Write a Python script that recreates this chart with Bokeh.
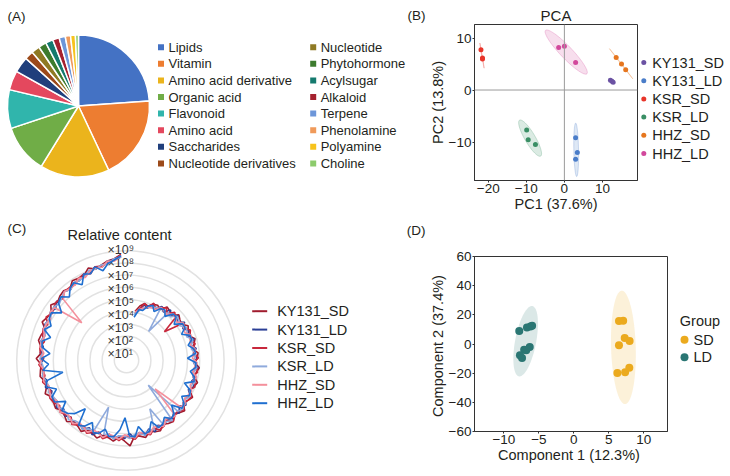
import numpy as np
from bokeh.plotting import figure
from bokeh.models import Range1d, Span, FixedTicker, ColumnDataSource, CustomJSTickFormatter
from bokeh.layouts import row, column
from bokeh.embed import file_html
from bokeh.resources import INLINE
from bokeh.core.properties import value

FONT = "Liberation Sans"
INK = "#231f20"

# ---------------- (A) metabolite classes ----------------
pie_classes = ["Lipids", "Vitamin", "Amino acid derivative", "Organic acid", "Flavonoid",
               "Amino acid", "Saccharides", "Nucleotide derivatives", "Nucleotide",
               "Phytohormone", "Acylsugar", "Alkaloid", "Terpene", "Phenolamine",
               "Polyamine", "Choline"]
pie_counts = [239, 191, 158, 111, 88, 44, 36, 20, 19, 18, 17, 15, 14, 12, 11, 7]
pie_colors = ["#4472C4", "#ED7D31", "#EBB41C", "#70AD47", "#30B5AC", "#E4485E",
              "#203F7C", "#9C4A1A", "#8F7A24", "#3D7B2E", "#157A6E", "#A5212F",
              "#6D96D9", "#F09A5A", "#F7C31C", "#8CCB6C"]

# ---------------- (B) PCA ----------------
pca_groups = ["KY131_SD", "KY131_LD", "KSR_SD", "KSR_LD", "HHZ_SD", "HHZ_LD"]
pca_colors = ["#6B52A3", "#4A7DC9", "#E8352A", "#3A8F65", "#E6761E", "#D2489C"]
pca_sample_group = (["KY131_SD"] * 3 + ["KY131_LD"] * 3 + ["KSR_SD"] * 3 +
                    ["KSR_LD"] * 3 + ["HHZ_SD"] * 3 + ["HHZ_LD"] * 3)
pca_pc1 = [12.1, 12.5, 12.8, 2.95, 3.4, 2.95, -21.9, -21.5, -21.5,
           -9.9, -9.5, -7.6, 13.6, 15.0, 16.1, -1.5, 0.0, 2.95]
pca_pc2 = [1.9, 1.7, 1.5, -9.2, -12.0, -13.3, 7.75, 6.15, 5.95,
           -7.7, -9.56, -10.5, 6.27, 5.0, 3.9, 8.2, 8.4, 5.3]
pca_xticks = [-20, -10, 0, 10]
pca_yticks = [-10, 0, 10]

# ---------------- (C) relative content (log10), sorted metabolites ----------------
rc_series = ["KY131_SD", "KY131_LD", "KSR_SD", "KSR_LD", "HHZ_SD", "HHZ_LD"]
rc_colors = ["#A01C2E", "#2B3F96", "#C8283C", "#8FAADC", "#F4909C", "#1F6FD0"]
rc_ky131_sd = [8.7, 8.4, 8.3, 8.1, 7.9, 8.2, 7.8, 7.8, 7.9, 7.5,
               7.7, 7.6, 7.4, 7.7, 7.3, 7.4, 7.6, 7.1, 7.3, 7.4,
               7.1, 7.0, 7.4, 7.0, 7.1, 7.2, 6.9, 6.9, 7.2, 6.8,
               6.9, 7.0, 6.7, 6.8, 7.0, 6.6, 6.7, 6.9, 6.5, 6.6,
               6.8, 6.4, 6.5, 6.7, 6.3, 6.6, 7.0, 6.2, 6.3, 6.5,
               6.1, 6.3, 6.4, 6.0, 6.2, 6.3, 5.9, 6.1, 6.3, 5.8,
               6.0, 6.2, 5.7, 5.9, 6.1, 5.7, 5.8, 6.0, 5.6, 5.8,
               5.9, 5.5, 5.7, 5.9, 5.5, 5.6, 5.8, 5.4, 5.5, 5.7,
               5.2, 5.4, 5.5, 5.0, 5.2, 5.1, 4.8, 4.9, 4.6, 4.1]
rc_ky131_ld = [8.5, 8.3, 8.3, 7.9, 8.1, 7.8, 7.9, 7.6, 7.7, 7.4,
               7.6, 7.3, 7.5, 7.2, 7.4, 7.1, 7.3, 7.3, 7.0, 7.2,
               6.9, 7.1, 6.8, 7.1, 6.8, 7.0, 6.7, 7.0, 6.6, 6.9,
               6.6, 6.9, 6.5, 6.8, 6.5, 6.8, 6.4, 6.7, 6.3, 6.7,
               6.3, 6.6, 6.2, 6.5, 6.2, 6.4, 6.0, 6.4, 6.0, 6.3,
               5.9, 6.3, 5.9, 6.2, 5.8, 6.2, 5.8, 6.1, 5.7, 6.1,
               5.7, 6.0, 5.6, 6.0, 5.6, 5.9, 5.5, 5.9, 5.5, 5.8,
               5.5, 5.8, 5.4, 5.8, 5.4, 5.7, 5.3, 5.7, 5.2, 5.6,
               5.1, 5.5, 5.0, 5.3, 4.9, 5.1, 4.6, 4.8, 4.2, 3.9]
rc_ksr_sd = [8.7, 8.3, 8.2, 8.0, 8.1, 7.7, 7.9, 7.8, 7.5, 7.6,
             7.6, 7.3, 7.5, 7.4, 7.2, 7.5, 7.1, 7.3, 7.2, 6.9,
             7.2, 7.1, 6.8, 7.2, 6.9, 6.8, 7.1, 6.8, 6.7, 7.0,
             6.9, 6.6, 6.9, 6.7, 6.5, 6.9, 6.6, 6.4, 6.8, 6.5,
             6.3, 6.7, 6.4, 6.3, 6.6, 6.2, 6.3, 6.5, 6.1, 6.2,
             6.4, 6.0, 6.3, 6.2, 5.9, 6.3, 6.0, 5.9, 6.2, 5.8,
             6.0, 6.1, 5.7, 6.0, 5.9, 5.6, 5.9, 5.8, 5.5, 5.9,
             5.6, 5.5, 5.8, 5.5, 5.6, 5.8, 5.4, 5.6, 3.9, 5.3,
             5.6, 5.1, 5.4, 5.2, 4.9, 5.2, 4.7, 4.9, 4.3, 4.1]
rc_ksr_ld = [8.5, 8.4, 8.1, 8.1, 7.9, 8.0, 7.7, 7.6, 7.7, 7.4,
             7.6, 7.4, 7.2, 7.4, 7.3, 7.1, 7.3, 7.1, 7.0, 7.2,
             7.0, 6.9, 7.1, 6.9, 6.8, 7.0, 6.8, 6.7, 6.9, 6.7,
             6.6, 6.8, 6.6, 6.5, 6.8, 6.5, 6.4, 6.7, 6.4, 6.3,
             4.1, 6.3, 6.3, 6.5, 6.2, 6.2, 6.4, 6.1, 6.1, 6.3,
             6.0, 6.1, 4.4, 6.0, 6.0, 6.2, 2.7, 5.9, 6.1, 5.8,
             5.8, 6.0, 5.7, 5.7, 5.9, 5.6, 5.6, 5.8, 5.5, 5.6,
             5.7, 5.4, 5.5, 5.7, 5.3, 5.5, 5.6, 5.2, 5.4, 5.5,
             5.1, 5.2, 3.0, 5.0, 5.0, 4.8, 4.7, 4.5, 4.2, 3.8]
rc_hhz_sd = [8.6, 8.2, 8.3, 7.9, 8.0, 7.9, 7.6, 7.8, 7.5, 7.5,
             7.6, 7.2, 4.8, 7.3, 7.4, 7.1, 7.2, 7.3, 7.0, 7.1,
             7.2, 6.8, 7.0, 7.1, 6.8, 6.9, 7.0, 6.7, 6.8, 6.9,
             6.6, 6.7, 6.9, 6.5, 6.6, 6.8, 6.4, 6.5, 6.7, 6.3,
             6.4, 6.6, 6.2, 6.3, 6.5, 6.1, 6.2, 6.4, 6.0, 6.1,
             6.3, 5.9, 6.0, 6.2, 5.8, 5.9, 6.1, 3.3, 5.8, 6.0,
             5.7, 5.8, 5.9, 5.6, 5.7, 5.9, 5.5, 5.6, 5.8, 5.4,
             5.6, 5.7, 5.4, 5.5, 5.7, 5.3, 5.4, 5.6, 5.2, 5.3,
             5.4, 5.0, 5.1, 5.2, 4.8, 4.8, 4.7, 4.5, 4.3, 4.0]
rc_hhz_ld = [8.6, 8.3, 8.1, 7.6, 8.1, 7.7, 7.9, 7.2, 7.7, 7.5,
             7.0, 7.5, 7.3, 6.6, 7.3, 7.2, 6.8, 7.2, 6.5, 7.1,
             7.0, 6.3, 7.0, 6.4, 6.9, 5.3, 6.8, 6.9, 6.2, 6.8,
             6.8, 6.0, 6.7, 6.5, 6.1, 5.2, 6.6, 6.4, 5.8, 6.5,
             6.4, 5.9, 6.4, 6.3, 5.7, 4.7, 6.2, 6.3, 5.5, 6.2,
             6.1, 5.4, 6.1, 6.0, 5.6, 6.0, 5.9, 5.2, 6.0, 5.9,
             5.4, 5.9, 5.8, 5.1, 5.8, 5.7, 5.3, 5.7, 5.7, 5.0,
             5.7, 5.6, 5.2, 5.6, 5.6, 5.0, 5.5, 5.5, 4.9, 5.4,
             5.4, 4.8, 5.2, 5.1, 4.6, 5.0, 4.8, 4.3, 4.3, 3.6]
rc_values = [rc_ky131_sd, rc_ky131_ld, rc_ksr_sd, rc_ksr_ld, rc_hhz_sd, rc_hhz_ld]
rc_decades = [1, 2, 3, 4, 5, 6, 7, 8, 9]

# ---------------- (D) PLS-DA ----------------
pls_groups = ["SD", "LD"]
pls_colors = ["#EBAA1E", "#2A7673"]
pls_sample_group = ["SD"] * 8 + ["LD"] * 9
pls_c1 = [6.46, 7.06, 7.28, 6.46, 7.98, 6.23, 7.34, 7.94,
          -7.8, -6.7, -6.2, -5.96, -7.1, -6.8, -6.3, -7.7, -7.4]
pls_c2 = [15.7, 15.9, 4.1, -0.9, 2.0, -19.8, -19.4, -16.2,
          8.9, 11.3, 12.0, 12.5, -3.9, -4.3, -2.1, -7.7, -9.6]
pls_xticks = [-10, -5, 0, 5, 10]
pls_yticks = [-60, -40, -20, 0, 20, 40, 60]


# ---------------- helpers ----------------
def blank(width, height, xr, yr):
    p = figure(width=width, height=height, x_range=Range1d(*xr), y_range=Range1d(*yr),
               output_backend="svg", toolbar_location=None,
               x_axis_location=None, y_axis_location=None, min_border=0)
    p.frame_align = False
    p.xgrid.visible = False
    p.ygrid.visible = False
    p.outline_line_color = None
    return p


def style_axes(p, xticks, yticks):
    minus = CustomJSTickFormatter(code="return tick < 0 ? '\u2212' + Math.abs(tick) : tick.toString();")
    p.frame_align = False
    p.xaxis.ticker = FixedTicker(ticks=xticks)
    p.yaxis.ticker = FixedTicker(ticks=yticks)
    for ax in (p.xaxis, p.yaxis):
        ax.formatter = minus
        ax.axis_line_color = "#333333"
        ax.major_tick_line_color = "#333333"
        ax.minor_tick_line_color = None
        ax.major_tick_in = 0
        ax.major_tick_out = 2
        ax.major_label_standoff = 1
        ax.axis_label_standoff = 0
        ax.major_label_text_font = FONT
        ax.major_label_text_font_size = "13.5px"
        ax.major_label_text_color = INK
        ax.axis_label_text_font = FONT
        ax.axis_label_text_font_size = "14.5px"
        ax.axis_label_text_font_style = "normal"
        ax.axis_label_text_color = INK
    p.xgrid.visible = False
    p.ygrid.visible = False
    p.outline_line_color = "#333333"
    p.outline_line_width = 1


def conf_ellipse(x, y, k, n=120):
    x = np.asarray(x, float)
    y = np.asarray(y, float)
    cov = np.cov(x, y)
    vals, vecs = np.linalg.eigh(cov)
    vals = np.clip(vals, 1e-6, None)
    t = np.linspace(0, 2 * np.pi, n)
    circ = np.vstack([np.cos(t), np.sin(t)])
    pts = vecs @ (np.sqrt(vals)[:, None] * circ) * k
    return list(x.mean() + pts[0]), list(y.mean() + pts[1])


def put_text(p, x, y, s, size="13.5px", align="left"):
    p.text([x], [y], text=[s], text_font=value(FONT), text_font_size=size,
           text_baseline="middle", text_align=align, text_color=INK)


WL = 426            # left column width
WB, WBL = 212, 90   # PCA plot, PCA legend
WD, WDL = 242, 60   # PLS-DA plot, PLS-DA legend
HT, HB = 220, 254   # row heights

# ================= (A) =================
pA = blank(WL, HT, (0, WL), (0, HT))
frac = np.array(pie_counts, float) / float(sum(pie_counts))
edges = np.concatenate([[0.0], np.cumsum(frac)]) * 2 * np.pi
srcA = ColumnDataSource(dict(cls=pie_classes, start=np.pi / 2 - edges[:-1],
                             end=np.pi / 2 - edges[1:], color=pie_colors))
pA.wedge(x=78, y=114.5, radius=71, start_angle="start", end_angle="end",
         direction="clock", fill_color="color", line_color="white", line_width=1.5,
         source=srcA)
idx = np.arange(len(pie_classes))
lx = 160.5 + 152.2 * (idx // 8)
ly = 173.3 - 16.6 * (idx % 8)
pA.scatter(lx, ly, marker="square", size=6, fill_color=pie_colors, line_color=None)
pA.text(lx + 7.5, ly, text=pie_classes, text_font=value(FONT), text_font_size="13px",
        text_baseline="middle", text_align="left", text_color=INK)
put_text(pA, 7, 204, "(A)")
put_text(pA, WL - 1, 205, "(B)", align="right")

# ================= (B) =================
pB = figure(width=WB, height=HT, x_range=Range1d(-23.6, 19.2), y_range=Range1d(-17.4, 12.6),
            output_backend="svg", toolbar_location=None, title="PCA",
            min_border_left=43, min_border_right=1, min_border_top=24, min_border_bottom=40)
style_axes(pB, pca_xticks, pca_yticks)
pB.title.align = "center"
pB.title.text_font = FONT
pB.title.text_font_size = "15px"
pB.title.text_font_style = "normal"
pB.title.text_color = INK
pB.title.standoff = 1
pB.xaxis.axis_label = "PC1 (37.6%)"
pB.yaxis.axis_label = "PC2 (13.8%)"
pB.add_layout(Span(location=0, dimension="height", line_color="#9a9a9a", line_width=1))
pB.add_layout(Span(location=0, dimension="width", line_color="#9a9a9a", line_width=1))
grp = np.array(pca_sample_group)
x1 = np.array(pca_pc1)
y1 = np.array(pca_pc2)
for g, c in zip(pca_groups, pca_colors):
    m = grp == g
    ex, ey = conf_ellipse(x1[m], y1[m], 2.45)
    pB.patch(ex, ey, fill_color=c, fill_alpha=0.18, line_color=c, line_alpha=0.25, line_width=1)
for g, c in zip(pca_groups, pca_colors):
    m = grp == g
    pB.scatter(x1[m], y1[m], size=5, fill_color=c, line_color=None)

# legend column for (B)
pBL = blank(WBL, HT, (0, WBL), (0, HT))
kb = np.arange(len(pca_groups))
byy = 158.0 - 18.2 * kb
pBL.scatter(np.full(len(kb), 5.3), byy, size=5, fill_color=pca_colors, line_color=None)
pBL.text(np.full(len(kb), 13.7), byy, text=pca_groups, text_font=value(FONT),
         text_font_size="14.5px", text_baseline="middle", text_align="left", text_color=INK)

# ================= (C) =================
DEC = 12.2  # pixels per decade on the radial axis
pC = blank(WL, HB, (-126, WL - 126), (-114, 140))
dec = np.array(rc_decades, float)
pC.circle(x=np.zeros_like(dec), y=np.zeros_like(dec), radius=DEC * dec,
          fill_color=None, line_color="#e2e2e2", line_width=1.5)
sup = str.maketrans("0123456789", "\u2070\u00b9\u00b2\u00b3\u2074\u2075\u2076\u2077\u2078\u2079")
ring_labels = ["\u00d710" + str(int(d)).translate(sup) for d in rc_decades]
pC.text(np.full(len(dec), -19.0), 13.0 * dec - 6.0, text=ring_labels, text_font=value(FONT),
        text_font_size="12.5px", text_baseline="middle", text_align="left", text_color="#333333")
theta = np.deg2rad(93.0 + 3.9 * np.arange(len(rc_ky131_sd)))
for vals, c in zip(rc_values, rc_colors):
    r = DEC * np.array(vals, float)
    pC.line(r * np.cos(theta), r * np.sin(theta), line_color=c, line_width=1.6)
j = np.arange(len(rc_series))
legy = 49.3 - 18.4 * j
pC.segment(x0=np.full(len(j), 125.7), y0=legy, x1=np.full(len(j), 140.7), y1=legy,
           line_color=rc_colors, line_width=2)
pC.text(np.full(len(j), 150.7), legy, text=rc_series, text_font=value(FONT),
        text_font_size="14.5px", text_baseline="middle", text_align="left", text_color=INK)
put_text(pC, -7, 126, "Relative content", size="14.5px", align="center")
put_text(pC, -119, 132, "(C)")
put_text(pC, WL - 127, 130, "(D)", align="right")

# ================= (D) =================
pD = figure(width=WD, height=HB, x_range=Range1d(-14.2, 13.4), y_range=Range1d(-60, 60),
            output_backend="svg", toolbar_location=None,
            min_border_left=43, min_border_right=1, min_border_top=36, min_border_bottom=43)
style_axes(pD, pls_xticks, pls_yticks)
pD.xaxis.axis_label = "Component  1 (12.3%)"
pD.yaxis.axis_label = "Component  2 (37.4%)"
gD = np.array(pls_sample_group)
xd = np.array(pls_c1)
yd = np.array(pls_c2)
for g, c in zip(pls_groups, pls_colors):
    m = gD == g
    ex, ey = conf_ellipse(xd[m], yd[m], 2.65)
    pD.patch(ex, ey, fill_color=c, fill_alpha=0.17, line_color=None)
for g, c in zip(pls_groups, pls_colors):
    m = gD == g
    pD.scatter(xd[m], yd[m], size=8, fill_color=c, line_color=None)

# legend column for (D)
pDL = blank(WDL, HB, (0, WDL), (0, HB))
kd = np.arange(len(pls_groups))
dyy = 134.7 - 17.4 * kd
put_text(pDL, 11.3, 154, "Group", size="14.5px")
pDL.scatter(np.full(len(kd), 16.0), dyy, size=8, fill_color=pls_colors, line_color=None)
pDL.text(np.full(len(kd), 25.0), dyy, text=pls_groups, text_font=value(FONT),
         text_font_size="14.5px", text_baseline="middle", text_align="left", text_color=INK)

layout = column(row(pA, pB, pBL), row(pC, pD, pDL))
open("out.html", "w").write(file_html(layout, INLINE))
